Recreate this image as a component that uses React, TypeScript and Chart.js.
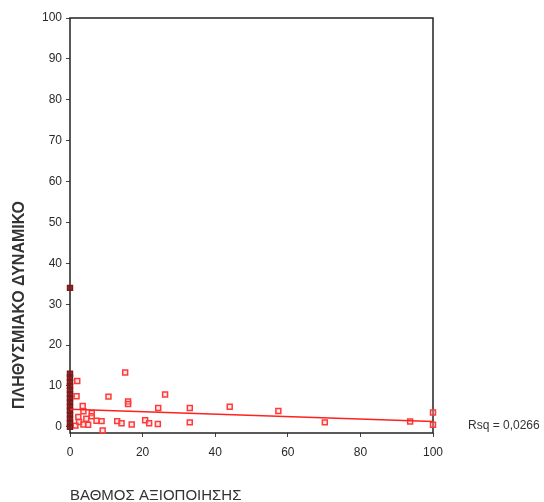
import React, { useEffect, useRef } from "react";
import { Chart, registerables } from "chart.js";

Chart.register(...registerables);

// Scatter data
const pointsX = [2, 1.8, 15.2, 10.6, 26.2, 16, 16, 3.5, 3.7, 6, 6, 24.3, 33, 2.3, 2.5, 8.7, 7.3, 13, 14.2, 17, 20.7, 21.8, 24.2, 33, 3.7, 9, 1.5, 5, 4.5, 44, 57.4, 70.2, 93.7, 100, 100];
const pointsY = [11.2, 7.5, 13.3, 7.4, 7.9, 6.2, 5.6, 5.1, 3.8, 3.4, 2.6, 4.6, 4.6, 2.4, 1.2, 1.4, 1.5, 1.4, 0.9, 0.6, 1.6, 0.9, 0.7, 1.1, 0.6, -0.9, 0.3, 0.5, 2, 4.9, 3.9, 1.1, 1.3, 3.5, 0.5];
// Overlapping cases at x = 0 (drawn darker)
const zeroX = [0, 0, 0, 0, 0, 0, 0, 0, 0, 0, 0, 0, 0, 0, 0];
const zeroY = [0, 1, 2, 3, 4, 5, 6, 7, 8, 9, 10, 11, 12, 13, 34];
// Fit line
const fitX = [0, 100];
const fitY = [4.3, 1.3];
const rsqLabel = "Rsq = 0,0266";
const xTicks = [0, 20, 40, 60, 80, 100];
const yTicks = [0, 10, 20, 30, 40, 50, 60, 70, 80, 90, 100];
const xTitle = "ΒΑΘΜΟΣ ΑΞΙΟΠΟΙΗΣΗΣ";
const yTitle = "ΠΛΗΘΥΣΜΙΑΚΟ ΔΥΝΑΜΙΚΟ";

const FONT = "'Liberation Sans', Arial, sans-serif";

export default function App() {
  const ref = useRef<HTMLCanvasElement | null>(null);
  useEffect(() => {
    document.body.style.margin = "0";
    const ctx = ref.current!.getContext("2d")!;
    const toPts = (xs: number[], ys: number[]) => xs.map((x, i) => ({ x, y: ys[i] }));
    const framePlugin = {
      id: "frame",
      beforeDatasetsDraw(chart: any) {
        const c = chart.ctx;
        const a = chart.chartArea;
        c.save();
        c.strokeStyle = "#222";
        c.lineWidth = 1.5;
        c.strokeRect(a.left, a.top, a.right - a.left, a.bottom - a.top);
        c.restore();
      },
      afterDraw(chart: any) {
        const c = chart.ctx;
        c.save();
        c.fillStyle = "#333";
        c.font = `12px ${FONT}`;
        c.textAlign = "left";
        c.textBaseline = "middle";
        c.fillText(rsqLabel, 468, 426);
        c.font = `15px ${FONT}`;
        c.textBaseline = "alphabetic";
        c.fillText(xTitle, 70, 500);
        c.translate(24, 305);
        c.rotate(-Math.PI / 2);
        c.textAlign = "center";
        c.font = `bold 16px ${FONT}`;
        c.fillText(yTitle, 0, 0);
        c.restore();
      },
    };
    const chart = new Chart(ctx, {
      type: "scatter",
      data: {
        datasets: [
          {
            type: "line",
            data: toPts(fitX, fitY),
            borderColor: "#ff2020",
            borderWidth: 1.5,
            pointRadius: 0,
            fill: false,
          } as any,
          {
            data: toPts(zeroX, zeroY),
            pointStyle: "rect",
            pointRadius: 3.5,
            borderColor: "#801818",
            backgroundColor: "rgba(128,24,24,0.85)",
            borderWidth: 1.5,
            clip: false,
          } as any,
          {
            data: toPts(pointsX, pointsY),
            pointStyle: "rect",
            pointRadius: 3.5,
            borderColor: "#ff3a3a",
            backgroundColor: "rgba(255,190,190,0.35)",
            borderWidth: 1.5,
            clip: false,
          } as any,
        ],
      },
      options: {
        animation: false,
        responsive: true,
        maintainAspectRatio: false,
        layout: { padding: { top: 18, right: 111, left: 0, bottom: 0 } },
        plugins: { legend: { display: false }, tooltip: { enabled: false } },
        scales: {
          x: {
            type: "linear",
            min: 0,
            max: 100,
            afterFit: (s: any) => {
              s.height = 69;
            },
            afterBuildTicks: (s: any) => {
              s.ticks = xTicks.map((v) => ({ value: v }));
            },
            grid: { drawOnChartArea: false, color: "#444", tickLength: 4 },
            border: { display: false },
            ticks: {
              autoSkip: false,
              maxRotation: 0,
              padding: 8,
              color: "#2a2a2a",
              font: { family: FONT, size: 12 },
            },
          },
          y: {
            type: "linear",
            min: -1.5,
            max: 100,
            afterFit: (s: any) => {
              s.width = 70;
            },
            afterBuildTicks: (s: any) => {
              s.ticks = yTicks.map((v) => ({ value: v }));
            },
            grid: { drawOnChartArea: false, color: "#444", tickLength: 4 },
            border: { display: false },
            ticks: {
              autoSkip: false,
              padding: 4,
              color: "#2a2a2a",
              font: { family: FONT, size: 12 },
            },
          },
        },
      },
      plugins: [framePlugin],
    });
    return () => chart.destroy();
  }, []);
  return (
    <div style={{ position: "fixed", left: 0, top: 0, width: 544, height: 502 }}>
      <canvas ref={ref} />
    </div>
  );
}
